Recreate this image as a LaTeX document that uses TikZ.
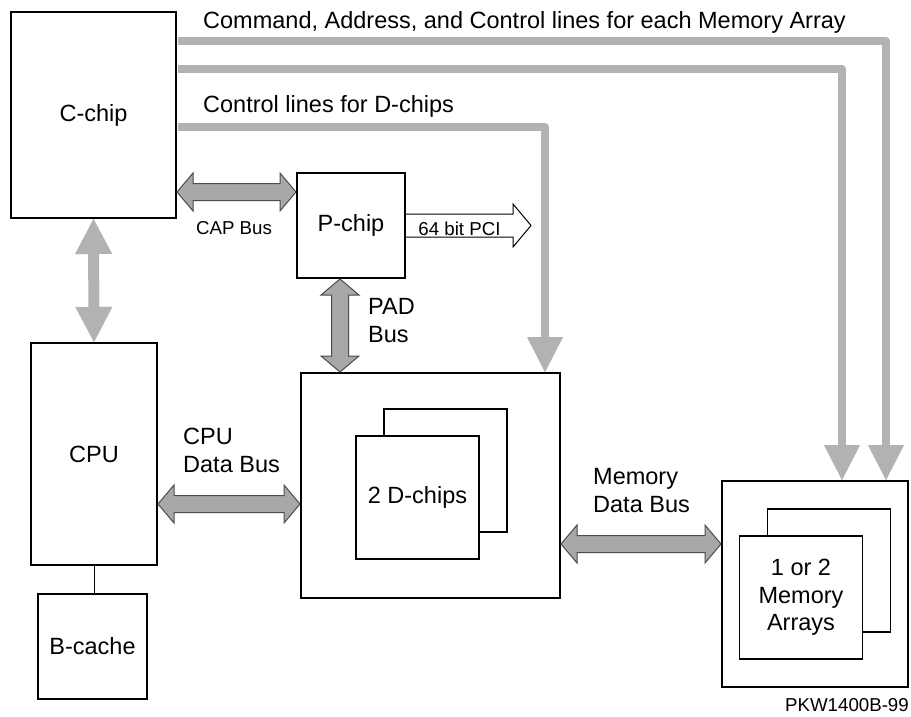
\documentclass[tikz,border=0pt]{standalone}
\usepackage{fontspec}
\setmainfont{Liberation Sans}
\usetikzlibrary{arrows.meta,calc}

\definecolor{ctrlgray}{gray}{0.7}
\definecolor{busgray}{gray}{0.66}
\definecolor{busedge}{gray}{0.3}

\tikzset{
  chip/.style={draw, line width=2pt, fill=white, inner sep=0pt, font=\fontsize{23.5}{28}\selectfont},
  subchip/.style={draw, line width=1.2pt, fill=white, inner sep=0pt, minimum width=123pt, minimum height=123pt, align=center, font=\fontsize{23.5}{27.5}\selectfont},
  ctrl/.style={draw=ctrlgray, line width=8pt, line join=round, -{Triangle[width=36pt,length=35pt,line width=0.01pt]}},
  bus/.style={draw=busedge, fill=busgray, line width=1pt, line join=miter},
  lbl/.style={inner sep=0pt, align=left, font=\fontsize{23.5}{28}\selectfont},
  small/.style={inner sep=0pt, font=\fontsize{18.7}{22}\selectfont},
}

% double headed bus arrow between two points
\newcommand\busarrow[2]{%
  \path (#1) coordinate (ba) (#2) coordinate (bb);
  \draw[bus] (ba)
    -- ($(ba)!16pt!(bb)!19pt!90:(bb)$)
    -- ($(ba)!16pt!(bb)!8.5pt!90:(bb)$)
    -- ($(bb)!16pt!(ba)!8.5pt!-90:(ba)$)
    -- ($(bb)!16pt!(ba)!19pt!-90:(ba)$)
    -- (bb)
    -- ($(bb)!16pt!(ba)!19pt!90:(ba)$)
    -- ($(bb)!16pt!(ba)!8.5pt!90:(ba)$)
    -- ($(ba)!16pt!(bb)!8.5pt!-90:(bb)$)
    -- ($(ba)!16pt!(bb)!19pt!-90:(bb)$)
    -- cycle;}

\begin{document}
\begin{tikzpicture}[x=1pt, y=-1pt]
  \useasboundingbox (0,0) rectangle (911,717);
  % chips
  \node[chip, minimum width=165pt, minimum height=206pt] (cchip) at (93.5,115) {C-chip};
  \node[chip, minimum width=108pt, minimum height=105pt] (pchip) at (351,225.5) {P-chip};
  \node[chip, minimum width=126pt, minimum height=222pt] (cpu) at (94,454) {CPU};
  \node[chip, minimum width=109pt, minimum height=105pt] (bcache) at (92.5,646.5) {B-cache};
  \node[chip, minimum width=259pt, minimum height=225pt] (dbox) at (430.5,485.5) {};
  \node[chip, minimum width=186pt, minimum height=206pt] (mbox) at (815,584) {};
  \node[subchip] (dback) at (445.5,470.5) {};
  \node[subchip] (dfront) at (417.5,497.5) {2 D-chips};
  \node[subchip] (mback) at (829,570.5) {};
  \node[subchip] (mfront) at (801,597.5) {1 or 2\\Memory\\Arrays};
  \draw[line width=1pt] (cpu.south) -- (cpu.south |- bcache.north);

  % control lines
  \draw[ctrl] ($(cchip.east |- 0,41)+(1,0)$) -| ($(mbox.north)+(71,0)$);
  \draw[ctrl] ($(cchip.east |- 0,69)+(1,0)$) -| ($(mbox.north)+(27,0)$);
  \draw[ctrl] ($(cchip.east |- 0,127)+(1,0)$) -| ($(dbox.north)+(114.5,0)$);
  \draw[ctrl, line width=11pt, {Triangle[width=37pt,length=35pt,line width=0.01pt]}-{Triangle[width=37pt,length=35pt,line width=0.01pt]}] (cchip.south) -- (cpu.north);

  % buses
  \coordinate (capend) at ($(pchip.north west)+(0,20)$);
  \busarrow{cchip.east |- capend}{capend}
  \coordinate (pad) at ($(pchip.south)+(-11,0)$);
  \busarrow{pad}{pad |- dbox.north}
  \coordinate (cdb) at ($(dbox.west)+(0,18.5)$);
  \busarrow{cpu.east |- cdb}{cdb}
  \coordinate (mdb) at ($(dbox.east)+(0,58.5)$);
  \busarrow{mdb}{mbox.west |- mdb}
  \draw[line width=1pt, fill=white] (pchip.east) ++(0,-11.5) -- ++(107,0) -- ++(0,-10) -- ++(18,21.5) -- ++(-18,21.5) -- ++(0,-10) -- ++(-107,0)
    node[small, midway, above=1pt] (pci) {64 bit PCI};

  % labels
  \node[lbl, anchor=base west] (cmdlbl) at ($(cchip.north east)+(26,18)$) {Command, Address, and Control lines for each Memory Array};
  \node[lbl, anchor=base west] (dctllbl) at ($(cchip.east)+(26,-2)$) {Control lines for D-chips};
  \node[small, anchor=base] (caplbl) at ($(capend)+(-62,42)$) {CAP Bus};
  \node[lbl, anchor=west] (padlbl) at ($(pad)+(28,41.5)$) {PAD\\Bus};
  \node[lbl, anchor=west] (cpulbl) at ($(cpu.east)+(25,-3.5)$) {CPU\\Data Bus};
  \node[lbl, anchor=west] (memlbl) at ($(dbox.east)+(32,5)$) {Memory\\Data Bus};
  \node[small, anchor=base east] (fig) at ($(mbox.south east)+(0,23)$) {PKW1400B-99};
\end{tikzpicture}
\end{document}
